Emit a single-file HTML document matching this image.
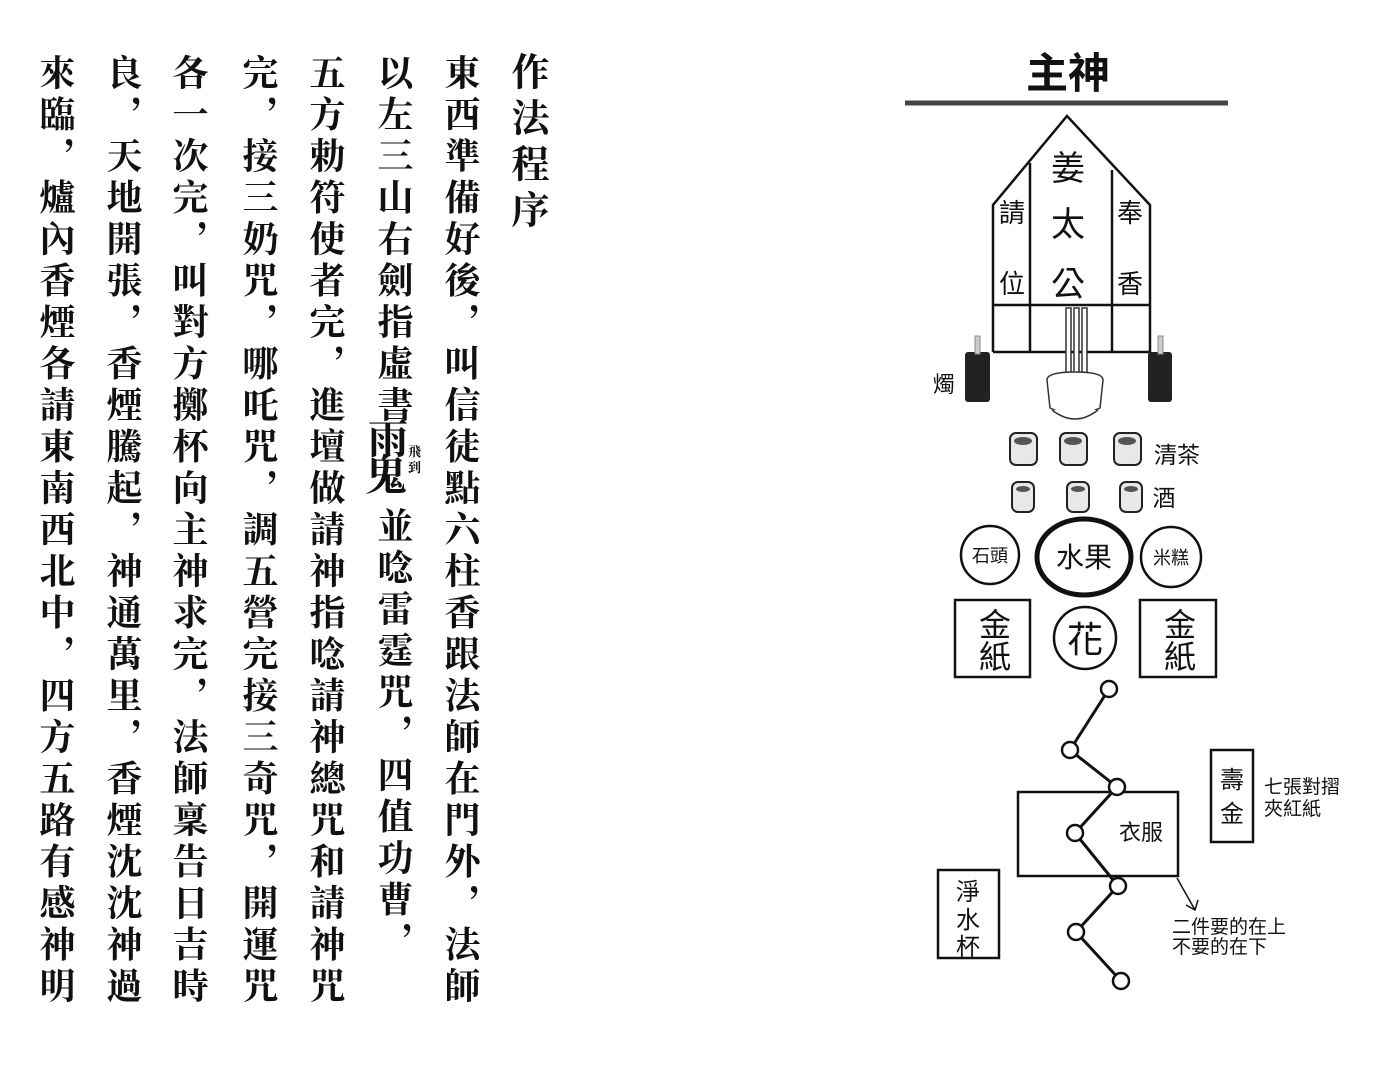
<!DOCTYPE html>
<html><head><meta charset="utf-8"><style>
html,body{margin:0;padding:0;background:#fff;}
body{width:1379px;height:1080px;position:relative;overflow:hidden;font-family:"Liberation Sans","Noto Sans CJK TC",sans-serif;color:#111;}
.col{position:absolute;writing-mode:vertical-rl;font-family:"Liberation Serif","Noto Serif CJK SC",serif;font-size:36px;line-height:36px;letter-spacing:5.5px;font-weight:700;white-space:nowrap;}
.t{position:absolute;font-family:"Liberation Serif","Noto Serif CJK SC",serif;color:#111;white-space:nowrap;}
</style></head><body>
<div class="col" style="left:507px;top:52px;font-size:38px;line-height:38px;letter-spacing:8px;">作法程序</div>
<div class="col" style="left:442px;top:54px;">東西準備好後，叫信徒點六柱香跟法師在門外，法師</div>
<div class="col" style="left:375px;top:54px;">以左三山右劍指虛書</div>
<div class="t" style="left:368px;top:420px;font-size:40px;font-weight:700;line-height:40px;">雨</div>
<div class="t" style="left:365px;top:456px;font-size:42px;font-weight:700;line-height:42px;">鬼</div>
<div class="t" style="left:408px;top:444px;font-size:13px;line-height:16px;width:14px;font-weight:700;">飛<br>到</div>
<div class="col" style="left:375px;top:507px;">並唸雷霆咒，四值功曹，</div>
<div class="col" style="left:307px;top:54px;">五方勅符使者完，進壇做請神指唸請神總咒和請神咒</div>
<div class="col" style="left:240px;top:54px;">完，接三奶咒，哪吒咒，調五營完接三奇咒，開運咒</div>
<div class="col" style="left:170px;top:54px;">各一次完，叫對方擲杯向主神求完，法師稟告日吉時</div>
<div class="col" style="left:104px;top:54px;">良，天地開張，香煙騰起，神通萬里，香煙沈沈神過</div>
<div class="col" style="left:37px;top:54px;">來臨，爐內香煙各請東南西北中，四方五路有感神明</div>

<svg width="1379" height="1080" style="position:absolute;left:0;top:0" xmlns="http://www.w3.org/2000/svg">
<g font-family="Liberation Sans, Noto Sans CJK TC, sans-serif" fill="#111" text-anchor="middle">
<text x="1068" y="88" font-size="42" font-weight="700">主神</text>
<line x1="905" y1="103" x2="1228" y2="103" stroke="#444" stroke-width="5"/>
<g stroke="#111" stroke-width="2.5" fill="none">
<polyline points="993,352 993,205 1067,116 1150,205 1150,352 993,352"/>
<line x1="1030" y1="163" x2="1030" y2="352"/>
<line x1="1112" y1="170" x2="1112" y2="352"/>
<line x1="993" y1="305" x2="1150" y2="305"/>
</g>
<text x="1068" y="180" font-size="34">姜</text>
<text x="1068" y="236" font-size="34">太</text>
<text x="1068" y="296" font-size="34">公</text>
<text x="1012" y="222" font-size="26">請</text>
<text x="1012" y="293" font-size="26">位</text>
<text x="1130" y="222" font-size="26">奉</text>
<text x="1130" y="293" font-size="26">香</text>
<g stroke="#333" stroke-width="1.5" fill="#fff">
<rect x="1066" y="308" width="5" height="78"/><rect x="1074" y="308" width="5" height="78"/><rect x="1082" y="308" width="5" height="78"/>
<path d="M1047,380 Q1047,372 1075,372 Q1103,372 1103,380 L1100,408 Q1075,420 1050,408 Z"/>
<path d="M1052,410 Q1075,428 1098,410"/>
</g>
<rect x="965" y="352" width="25" height="50" rx="3" fill="#222"/>
<rect x="975" y="336" width="5" height="18" fill="#ccc" stroke="#888"/>
<rect x="1148" y="352" width="24" height="50" rx="3" fill="#222"/>
<rect x="1158" y="336" width="5" height="18" fill="#ccc" stroke="#888"/>
<text x="944" y="392" font-size="22">燭</text>
<g stroke="#222" stroke-width="2" fill="#e8e8e8">
<rect x="1010" y="433" width="27" height="32" rx="6"/><rect x="1060" y="433" width="27" height="32" rx="6"/><rect x="1114" y="433" width="27" height="32" rx="6"/>
<rect x="1012" y="482" width="22" height="30" rx="6"/><rect x="1067" y="482" width="22" height="30" rx="6"/><rect x="1120" y="482" width="22" height="30" rx="6"/>
</g>
<g fill="#555"><ellipse cx="1023" cy="441" rx="9" ry="4"/><ellipse cx="1073" cy="441" rx="9" ry="4"/><ellipse cx="1127" cy="441" rx="9" ry="4"/>
<ellipse cx="1023" cy="489" rx="7" ry="3"/><ellipse cx="1078" cy="489" rx="7" ry="3"/><ellipse cx="1131" cy="489" rx="7" ry="3"/></g>
<text x="1177" y="463" font-size="23">清茶</text>
<text x="1164" y="506" font-size="23">酒</text>
<g fill="none" stroke="#111">
<circle cx="990" cy="555" r="29" stroke-width="2.5"/>
<ellipse cx="1084" cy="557" rx="47" ry="38" stroke-width="5"/>
<circle cx="1171" cy="557" r="30" stroke-width="2.5"/>
<circle cx="1085" cy="638" r="31" stroke-width="2.5"/>
<rect x="955" y="600" width="75" height="77" stroke-width="2.5"/>
<rect x="1140" y="600" width="76" height="77" stroke-width="2.5"/>
</g>
<text x="990" y="562" font-size="18">石頭</text>
<text x="1084" y="567" font-size="28">水果</text>
<text x="1171" y="564" font-size="18">米糕</text>
<text x="1085" y="652" font-size="36">花</text>
<text x="995" y="636" font-size="32">金</text><text x="995" y="668" font-size="32">紙</text>
<text x="1180" y="636" font-size="32">金</text><text x="1180" y="668" font-size="32">紙</text>
<g fill="none" stroke="#111" stroke-width="2.5">
<polyline points="1109,689 1070,750 1117,787 1075,833 1118,886 1076,932 1121,981" stroke-width="3"/>
<rect x="1018" y="792" width="160" height="84"/>
<rect x="1211" y="750" width="42" height="92"/>
<rect x="938" y="870" width="61" height="88"/>
<polyline points="1177,878 1195,910" stroke-width="1.5"/>
<polyline points="1186,905 1195,910 1198,900" stroke-width="1.5"/>
</g>
<g fill="#fff" stroke="#111" stroke-width="2.5">
<circle cx="1109" cy="689" r="8"/><circle cx="1070" cy="750" r="8"/><circle cx="1117" cy="787" r="8"/><circle cx="1075" cy="833" r="8"/><circle cx="1118" cy="886" r="8"/><circle cx="1076" cy="932" r="8"/><circle cx="1121" cy="981" r="8"/>
</g>
<text x="1141" y="840" font-size="22">衣服</text>
<text x="1232" y="788" font-size="24">壽</text><text x="1232" y="822" font-size="24">金</text>
<text x="968" y="900" font-size="24">淨</text><text x="968" y="928" font-size="24">水</text><text x="968" y="955" font-size="24">杯</text>
<g text-anchor="start" font-size="19">
<text x="1264" y="793">七張對摺</text>
<text x="1264" y="815">夾紅紙</text>
<text x="1172" y="933">二件要的在上</text>
<text x="1172" y="953">不要的在下</text>
</g>
</g>
</svg>
</body></html>
